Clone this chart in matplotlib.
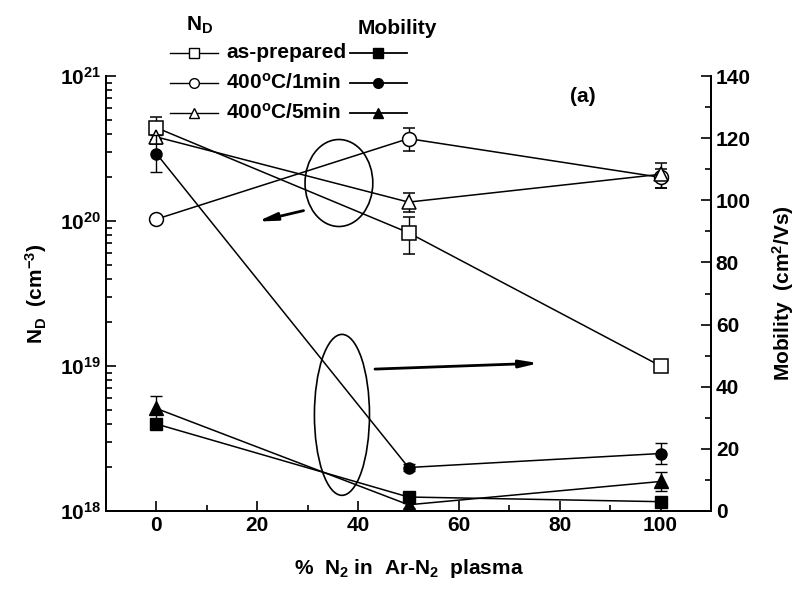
import matplotlib
matplotlib.use('Agg')
import matplotlib.pyplot as plt
from matplotlib.patches import Ellipse
from matplotlib.lines import Line2D
import numpy as np

plt.rcParams['font.family'] = ['Liberation Sans', 'DejaVu Sans']
plt.rcParams['font.weight'] = 'bold'
plt.rcParams['axes.labelweight'] = 'bold'
plt.rcParams['mathtext.fontset'] = 'custom'
plt.rcParams['mathtext.rm'] = 'Liberation Sans:bold'
plt.rcParams['mathtext.default'] = 'rm'

# data
n2_pct = [0, 50, 100]
series_names = ['as-prepared', '400$^\\mathregular{o}$C/1min', '400$^\\mathregular{o}$C/5min']
markers = ['s', 'o', '^']

nd_asprep = [4.4e20, 8.3e19, 1.0e19]
nd_1min = [1.03e20, 3.7e20, 2.0e20]
nd_5min = [3.8e20, 1.35e20, 2.1e20]
nd_err_asprep = [0.8e20, 2.4e19, 0]
nd_err_1min = [0.05e20, 0.65e20, 0.3e20]
nd_err_5min = [0.4e20, 0.2e20, 0.4e20]

mob_asprep = [28, 4.5, 3]
mob_1min = [115, 14, 18.5]
mob_5min = [33, 2, 9.5]
mob_err_asprep = [0, 1, 0]
mob_err_1min = [6, 1, 3.3]
mob_err_5min = [4, 1, 3]

W, H = 796, 589
fig = plt.figure(figsize=(W / 100, H / 100), dpi=100)
ax = fig.add_axes([106 / W, 1 - 511 / H, 605 / W, 435 / H])
ax2 = ax.twinx()

fs = 15

# N_D (open symbols, left log axis)
for y, e, m in zip([nd_asprep, nd_1min, nd_5min],
                   [nd_err_asprep, nd_err_1min, nd_err_5min], markers):
    ax.errorbar(n2_pct, y, yerr=e, marker=m, ms=10, mfc='white', mec='k',
                color='k', lw=1.1, capsize=4, elinewidth=1, mew=1.1, zorder=3)

# mobility (filled symbols, right axis)
for y, e, m in zip([mob_asprep, mob_1min, mob_5min],
                   [mob_err_asprep, mob_err_1min, mob_err_5min], markers):
    ax2.errorbar(n2_pct, y, yerr=e, marker=m, ms=8 if m != '^' else 10,
                 mfc='k', mec='k', color='k', lw=1.1, capsize=4,
                 elinewidth=1, zorder=3)

ax.set_yscale('log')
ax.set_ylim(1e18, 1e21)
ax.set_xlim(-10, 110)
ax2.set_ylim(0, 140)
ax.set_xticks([0, 20, 40, 60, 80, 100])
ax.set_xticks([10, 30, 50, 70, 90], minor=True)
ax2.set_yticks(np.arange(0, 141, 20))
ax2.set_yticks(np.arange(10, 140, 20), minor=True)

for a in (ax, ax2):
    a.spines['top'].set_visible(False)
    a.spines[['left', 'right', 'bottom']].set_linewidth(1.3)
    a.tick_params(which='both', direction='in', width=1.2, labelsize=fs)
    a.tick_params(which='major', length=7)
    a.tick_params(which='minor', length=4)
ax.tick_params(axis='y', which='both', right=False)

ax.set_xlabel('%  N$_\\mathregular{2}$ in  Ar-N$_\\mathregular{2}$  plasma',
              fontsize=fs, labelpad=16)
ax.set_ylabel('N$_\\mathregular{D}$  (cm$^\\mathregular{-3}$)', fontsize=fs, labelpad=8)
ax2.set_ylabel('Mobility  (cm$^\\mathregular{2}$/Vs)', fontsize=fs, labelpad=14)

# ellipses and arrows
ax.add_patch(Ellipse((0.385, 0.754), 0.112, 0.2, transform=ax.transAxes,
                     fill=False, ec='k', lw=1.2))
ax.add_patch(Ellipse((0.39, 0.221), 0.091, 0.37, transform=ax.transAxes,
                     fill=False, ec='k', lw=1.2))
arrow = dict(arrowstyle='-|>,head_length=1.1,head_width=0.22', color='k', lw=2)
ax.annotate('', xy=(0.246, 0.664), xytext=(0.331, 0.692),
            xycoords='axes fraction', arrowprops=arrow)
ax.annotate('', xy=(0.72, 0.34), xytext=(0.44, 0.326),
            xycoords='axes fraction', arrowprops=arrow)

fig.text(583 / W, 1 - 97 / H, '(a)', fontsize=fs, ha='center', va='center')

# legend drawn by hand
fig.text(200 / W, 1 - 25 / H, 'N$_\\mathregular{D}$', fontsize=fs, ha='center', va='center')
fig.text(397 / W, 1 - 28 / H, 'Mobility', fontsize=fs, ha='center', va='center')
for i, (name, m) in enumerate(zip(series_names, markers)):
    yy = 1 - (53 + 30 * i) / H
    fig.add_artist(Line2D([170 / W, 218 / W], [yy, yy], color='k', lw=1,
                          transform=fig.transFigure))
    fig.add_artist(Line2D([194 / W], [yy], ls='none', marker=m, ms=7,
                          mfc='white', mec='k', transform=fig.transFigure))
    fig.add_artist(Line2D([350 / W, 407 / W], [yy, yy], color='k', lw=1.3,
                          transform=fig.transFigure))
    fig.add_artist(Line2D([378 / W], [yy], ls='none', marker=m, ms=7,
                          mfc='k', mec='k', transform=fig.transFigure))
    fig.text(226 / W, yy, name, fontsize=fs, ha='left', va='center')

fig.savefig('out.png', dpi=100)
